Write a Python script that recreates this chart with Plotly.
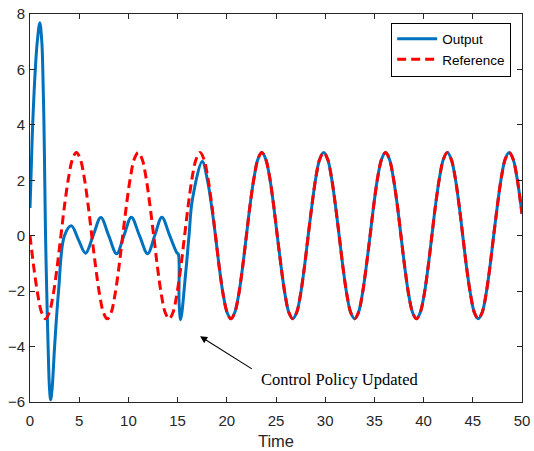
import plotly.graph_objects as go

# Reference signal knots (time, value)
ref_t = [0.00, 0.39, 0.79, 1.18, 1.57, 1.96, 2.36, 2.75, 3.14, 3.53, 3.93, 4.32,
         4.71, 5.11, 5.50, 5.89, 6.28, 6.68, 7.07, 7.46, 7.85, 8.25, 8.64, 9.03,
         9.42, 9.82, 10.21, 10.60, 11.00, 11.39, 11.78, 12.17, 12.57, 12.96, 13.35, 13.74,
         14.14, 14.53, 14.92, 15.32, 15.71, 16.10, 16.49, 16.89, 17.28, 17.67, 18.06, 18.46,
         18.85, 19.24, 19.63, 20.03, 20.42, 20.81, 21.21, 21.60, 21.99, 22.38, 22.78, 23.17,
         23.56, 23.95, 24.35, 24.74, 25.13, 25.53, 25.92, 26.31, 26.70, 27.10, 27.49, 27.88,
         28.27, 28.67, 29.06, 29.45, 29.85, 30.24, 30.63, 31.02, 31.42, 31.81, 32.20, 32.59,
         32.99, 33.38, 33.77, 34.16, 34.56, 34.95, 35.34, 35.74, 36.13, 36.52, 36.91, 37.31,
         37.70, 38.09, 38.48, 38.88, 39.27, 39.66, 40.06, 40.45, 40.84, 41.23, 41.63, 42.02,
         42.41, 42.80, 43.20, 43.59, 43.98, 44.37, 44.77, 45.16, 45.55, 45.95, 46.34, 46.73,
         47.12, 47.52, 47.91, 48.30, 48.69, 49.09, 49.48, 49.87, 50.00]
ref_y = [0, -1.15, -2.12, -2.77, -3, -2.77, -2.12, -1.15, 0, 1.15, 2.12, 2.77,
         3, 2.77, 2.12, 1.15, 0, -1.15, -2.12, -2.77, -3, -2.77, -2.12, -1.15,
         0, 1.15, 2.12, 2.77, 3, 2.77, 2.12, 1.15, 0, -1.15, -2.12, -2.77,
         -3, -2.77, -2.12, -1.15, 0, 1.15, 2.12, 2.77, 3, 2.77, 2.12, 1.15,
         0, -1.15, -2.12, -2.77, -3, -2.77, -2.12, -1.15, 0, 1.15, 2.12, 2.77,
         3, 2.77, 2.12, 1.15, 0, -1.15, -2.12, -2.77, -3, -2.77, -2.12, -1.15,
         0, 1.15, 2.12, 2.77, 3, 2.77, 2.12, 1.15, 0, -1.15, -2.12, -2.77,
         -3, -2.77, -2.12, -1.15, 0, 1.15, 2.12, 2.77, 3, 2.77, 2.12, 1.15,
         0, -1.15, -2.12, -2.77, -3, -2.77, -2.12, -1.15, 0, 1.15, 2.12, 2.77,
         3, 2.77, 2.12, 1.15, 0, -1.15, -2.12, -2.77, -3, -2.77, -2.12, -1.15,
         0, 1.15, 2.12, 2.77, 3, 2.77, 2.12, 1.15, 0.79]

# System output knots (time, value)
out_t = [0.00, 0.10, 0.27, 0.54, 0.74, 1.00, 1.20, 1.30, 1.42, 1.50, 1.58, 1.70,
         1.84, 1.98, 2.10, 2.25, 2.50, 2.90, 3.50, 4.20, 4.93, 5.65, 6.43, 7.20,
         8.00, 8.80, 9.55, 10.30, 11.12, 11.95, 12.68, 13.40, 14.18, 14.95, 15.07,
         15.15, 15.31, 15.82, 16.16, 16.50, 17.50, 18.06, 18.46,
         18.85, 19.24, 19.63, 20.03, 20.42, 20.81, 21.21, 21.60, 21.99, 22.38, 22.78, 23.17,
         23.56, 23.95, 24.35, 24.74, 25.13, 25.53, 25.92, 26.31, 26.70, 27.10, 27.49, 27.88,
         28.27, 28.67, 29.06, 29.45, 29.85, 30.24, 30.63, 31.02, 31.42, 31.81, 32.20, 32.59,
         32.99, 33.38, 33.77, 34.16, 34.56, 34.95, 35.34, 35.74, 36.13, 36.52, 36.91, 37.31,
         37.70, 38.09, 38.48, 38.88, 39.27, 39.66, 40.06, 40.45, 40.84, 41.23, 41.63, 42.02,
         42.41, 42.80, 43.20, 43.59, 43.98, 44.37, 44.77, 45.16, 45.55, 45.95, 46.34, 46.73,
         47.12, 47.52, 47.91, 48.30, 48.69, 49.09, 49.48, 49.87, 50.00]
out_y = [1.00, 2.10, 4.00, 6.00, 7.00, 7.68, 7.00, 6.00, 4.00, 2.00, 0.00, -2.00,
         -4.00, -5.50, -5.92, -5.50, -4.00, -2.00, 0.00, 0.36, -0.15, -0.63, 0.02, 0.66,
         0.00, -0.65, 0.01, 0.67, 0.01, -0.65, 0.01, 0.67, 0.02, -0.63, -0.66,
         -2.40, -3.03, -1.35, 0.00, 1.30, 2.68, 1.95, 1.05,
         0, -1.15, -2.12, -2.77, -3, -2.77, -2.12, -1.15, 0, 1.15, 2.12, 2.77,
         3, 2.77, 2.12, 1.15, 0, -1.15, -2.12, -2.77, -3, -2.77, -2.12, -1.15,
         0, 1.15, 2.12, 2.77, 3, 2.77, 2.12, 1.15, 0, -1.15, -2.12, -2.77,
         -3, -2.77, -2.12, -1.15, 0, 1.15, 2.12, 2.77, 3, 2.77, 2.12, 1.15,
         0, -1.15, -2.12, -2.77, -3, -2.77, -2.12, -1.15, 0, 1.15, 2.12, 2.77,
         3, 2.77, 2.12, 1.15, 0, -1.15, -2.12, -2.77, -3, -2.77, -2.12, -1.15,
         0, 1.15, 2.12, 2.77, 3, 2.77, 2.12, 1.15, 0.79]

x_ticks = [0, 5, 10, 15, 20, 25, 30, 35, 40, 45, 50]
y_ticks = [-6, -4, -2, 0, 2, 4, 6, 8]

fig = go.Figure()
fig.add_trace(go.Scatter(x=out_t, y=out_y, name="Output", mode="lines",
                         line=dict(color="#0072BD", width=3, shape="spline", smoothing=1.0)))
fig.add_trace(go.Scatter(x=ref_t, y=ref_y, name="Reference", mode="lines",
                         line=dict(color="#FF0000", width=3, dash="9px,5px",
                                   shape="spline", smoothing=1.0)))

axis_common = dict(showline=True, linecolor="#262626", linewidth=1, mirror="ticks",
                   ticks="inside", ticklen=5, tickcolor="#262626", showgrid=False,
                   zeroline=False, automargin=False,
                   tickfont=dict(family="Liberation Sans", size=15, color="#262626"))

fig.update_xaxes(range=[0, 50], tickvals=x_ticks, ticklabelstandoff=5,
                 title=dict(text="Time", font=dict(family="Liberation Sans", size=16.5, color="#262626"),
                            standoff=7),
                 **axis_common)
fig.update_yaxes(range=[-6, 8], tickvals=y_ticks, ticklabelstandoff=1, **axis_common)

fig.add_annotation(x=17.28, y=-3.63, ax=22.7, ay=-4.84, xref="x", yref="y",
                   axref="x", ayref="y", text="", showarrow=True,
                   arrowhead=2, arrowsize=1.3, arrowwidth=1.1, arrowcolor="black")
fig.add_annotation(x=23.3, y=-5.17, xref="x", yref="y", text="Control Policy Updated",
                   showarrow=False, xanchor="left", yanchor="middle",
                   font=dict(family="Liberation Serif", size=16.5, color="black"))

fig.update_layout(
    width=534, height=451,
    margin=dict(l=30, r=12, t=14, b=49),
    paper_bgcolor="white", plot_bgcolor="white",
    legend=dict(x=0.978, y=0.978, xanchor="right", yanchor="top",
                bgcolor="white", bordercolor="black", borderwidth=1,
                font=dict(family="Liberation Sans", size=13.5, color="black"),
                tracegroupgap=0, itemwidth=40),
)

fig.write_html("out.html")
